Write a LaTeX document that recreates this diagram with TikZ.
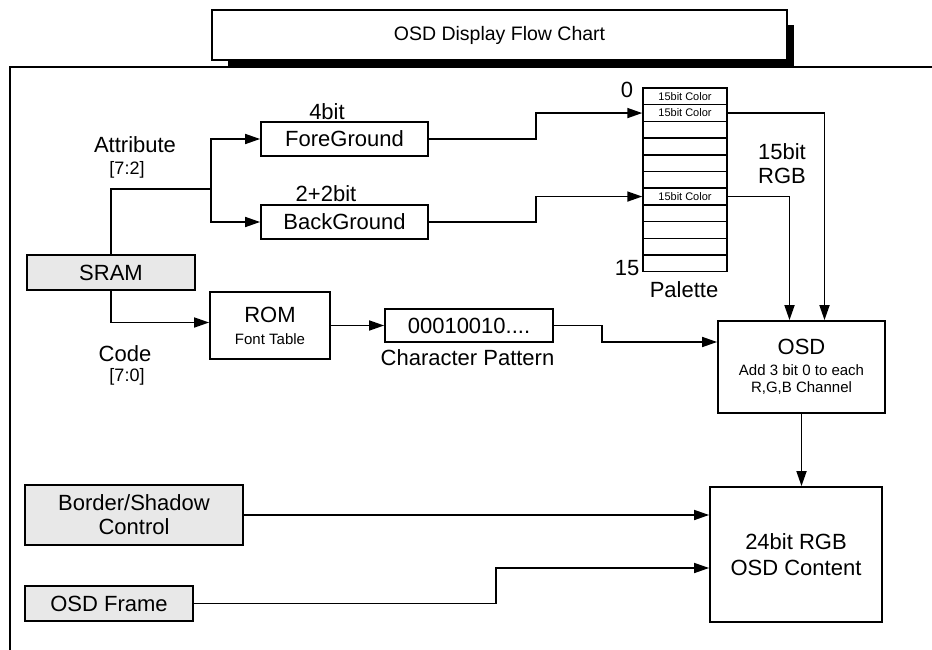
\documentclass[tikz,border=0pt]{standalone}
\usepackage{fontspec}
\setmainfont{Liberation Sans}
\usetikzlibrary{arrows.meta,positioning,calc}
\newcommand{\bigsz}{\fontsize{22}{24}\selectfont}
\newcommand{\titlesz}{\fontsize{19.5}{22}\selectfont}
\newcommand{\smallsz}{\fontsize{15}{17}\selectfont}
\newcommand{\tinysz}{\fontsize{11}{12}\selectfont}

\begin{document}
\begin{tikzpicture}[x=1pt, y=-1pt,
    box/.style={
        rectangle, draw, line width=1.8pt, fill=white,
        inner sep=0pt, align=center, font=\bigsz
    },
    shaded/.style={box, fill=black!9},
    cell/.style={
        rectangle, draw, line width=1.5pt, minimum width=84,
        minimum height=16.7, inner sep=0pt, font=\tinysz
    },
    tag/.style={font=\bigsz, inner sep=0pt, align=center},
    link/.style={line width=1.7pt, -{Triangle[length=15pt,width=10pt]}}
]
\useasboundingbox (0,0) rectangle (932,650);

% title and frame
\fill (228,25) rectangle (794,67);
\node[box, minimum width=575, minimum height=50, font=\titlesz] (title) at (499.5,35) {OSD Display Flow Chart};
\draw[line width=1.8pt] (932,67) -| (10,650);

% sources
\node[shaded, minimum width=168, minimum height=35] (sram) at (111,272.5) {SRAM};
\node[shaded, minimum width=218, minimum height=60] (border) at (134,515) {Border/Shadow\\Control};
\node[shaded, minimum width=168, minimum height=35] (frame) at (109,603.5) {OSD Frame};

% attribute path
\node[box, minimum width=167, minimum height=34] (fg) at (344.5,139) {ForeGround};
\node[box, minimum width=167, minimum height=34] (bg) at (344.5,222) {BackGround};
\node[tag] at (327,112) {4bit};
\node[tag] at (326,194) {2+2bit};
\node[tag] at (135,145) {Attribute};
\node[tag, font=\fontsize{18}{20}\selectfont] at (127,170) {[7:2]};

% palette
\foreach \i in {1,...,11}
    \node[cell] (row\i) at (685,{88+16.7*(\i-0.5)}) {};
\node[font=\tinysz] at (row1) {15bit Color};
\node[font=\tinysz] at (row2) {15bit Color};
\node[font=\tinysz] at (row7) {15bit Color};
\node[tag] at (627,90) {0};
\node[tag] at (627,268) {15};
\node[tag] at (684,290) {Palette};

% code path
\node[box, minimum width=120, minimum height=67] (rom) at (270,325.5) {ROM\\[-2pt]{\smallsz Font Table}};
\node[box, minimum width=168, minimum height=33] (pattern) at (469,325.5) {00010010....};
\node[tag] at (467.5,358) {Character Pattern};
\node[tag] at (125,354) {Code};
\node[tag, font=\fontsize{18}{20}\selectfont] at (127,377) {[7:0]};

% OSD and output
\node[box, minimum width=167, minimum height=92, font=\smallsz] (osd) at (801.5,367) {{\bigsz OSD}\\[4pt]Add 3 bit 0 to each\\R,G,B Channel};
\node[tag] at (782,164) {15bit\\RGB};
\node[box, minimum width=172, minimum height=135, font=\fontsize{22}{26}\selectfont] (out) at (796,554.5) {24bit RGB\\OSD Content};

% connections
\coordinate (split) at (211,189);
\draw[line width=1.7pt] (sram.north) |- (split);
\draw[link] (split) |- (fg.west);
\draw[link] (split) |- (bg.west);
\draw[link] (fg.east) -- ++(107,0) |- (row2.west);
\draw[link] (bg.east) -- ++(107,0) |- (row7.west);
\draw[link] (row2.east) -| ([xshift=23pt]osd.north);
\draw[link] (row7.east) -| ([xshift=-12pt]osd.north);
\draw[link] (sram.south) |- ([yshift=3pt]rom.west);
\draw[link] (rom) -- (pattern);
\draw[link] (pattern.east) -- ++(48,0) |- ([yshift=25pt]osd.west);
\draw[link] (osd.south) -- (osd.south |- out.north);
\draw[link] (border.east) -- (border.east -| out.west);
\draw[link] (frame.east) -- ++(302,0) |- ([yshift=-13.5pt]out.west);

\end{tikzpicture}
\end{document}
